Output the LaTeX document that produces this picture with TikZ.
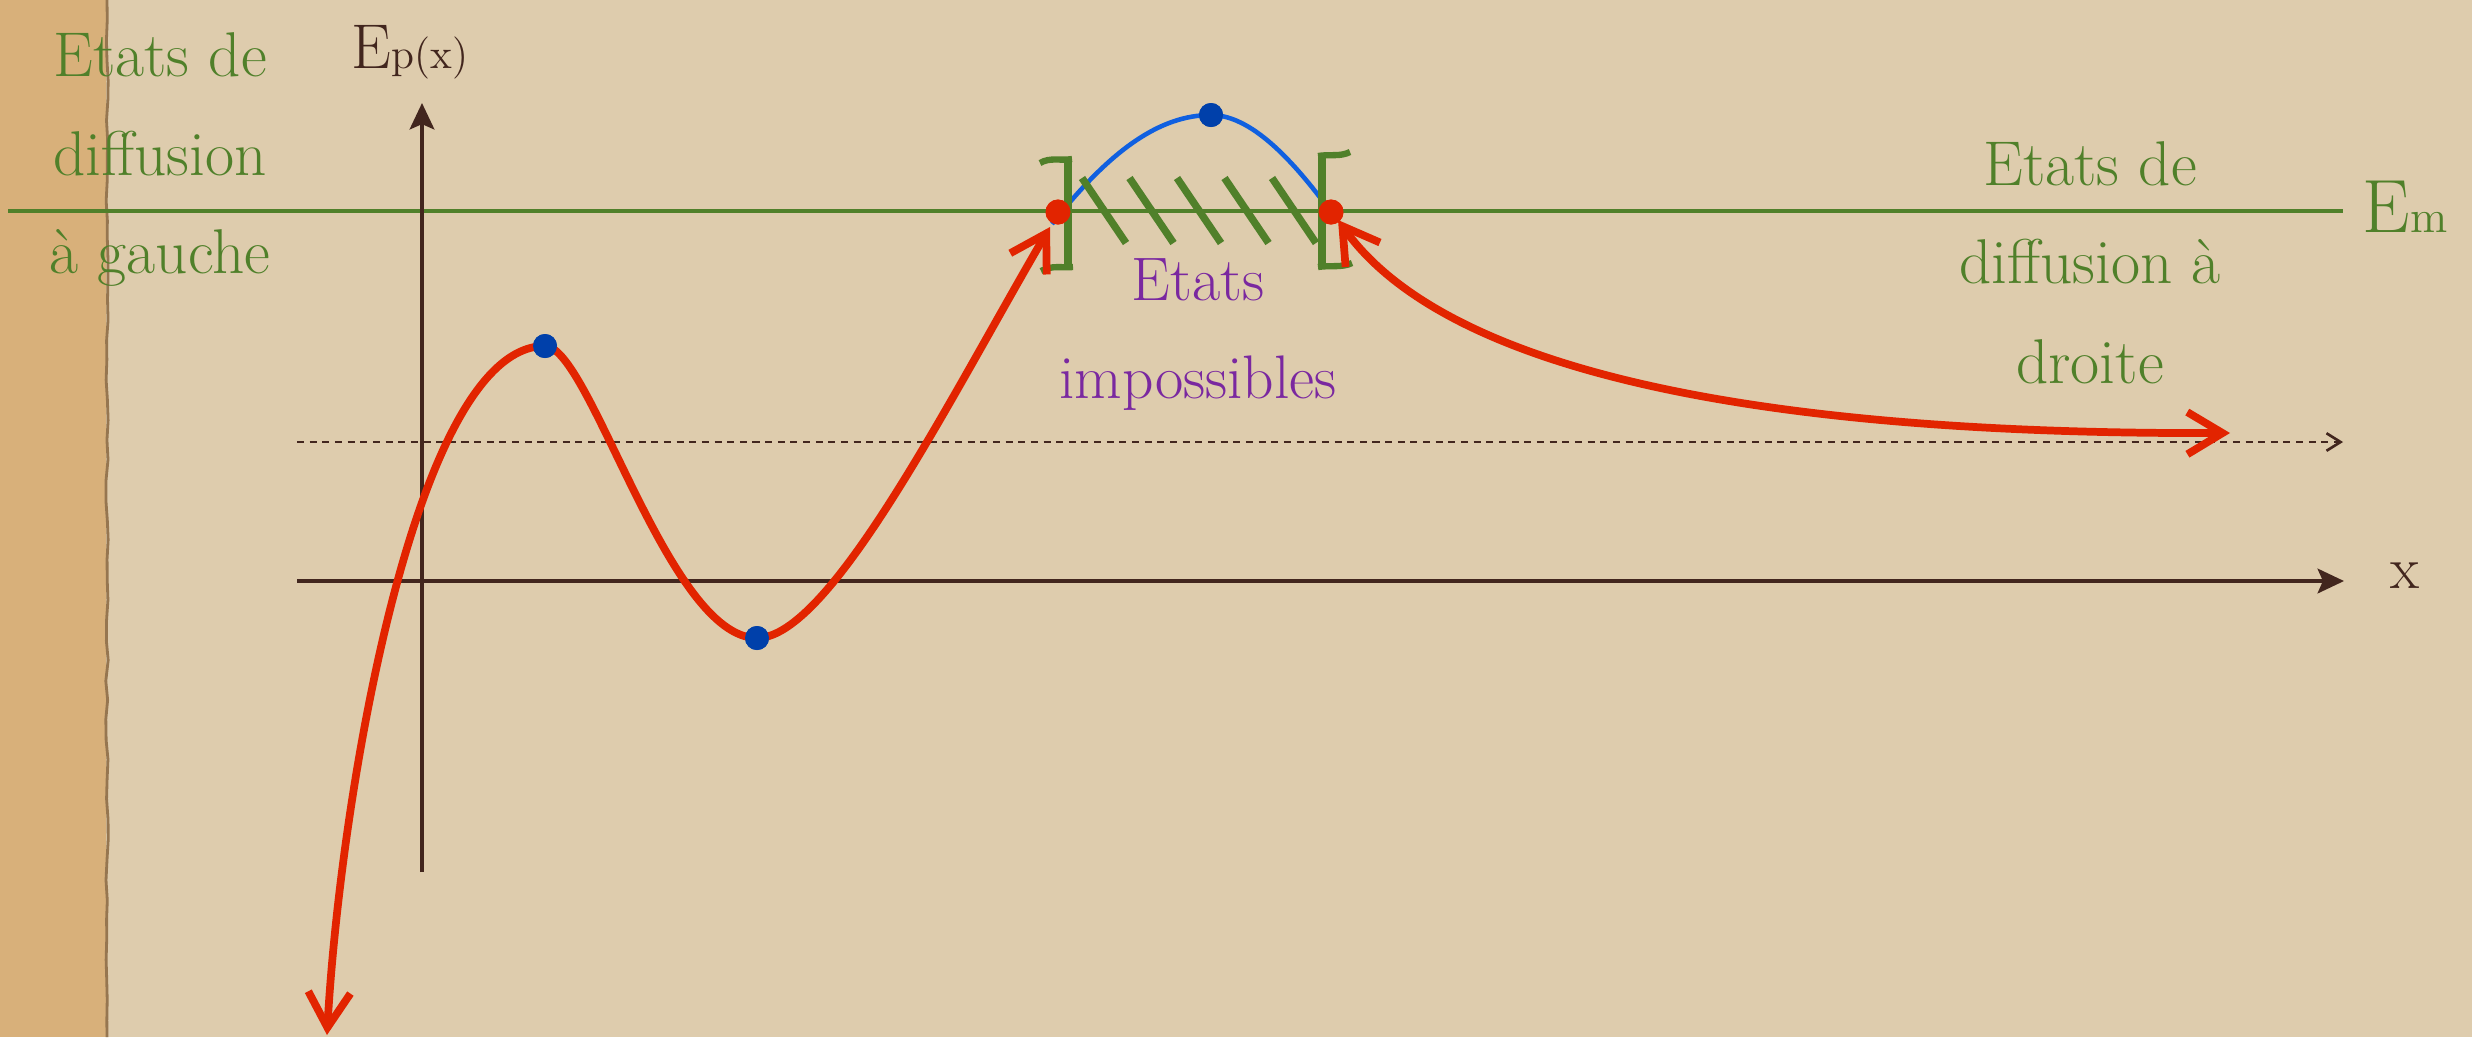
\documentclass[tikz,border=0pt]{standalone}
\usepackage{fontspec}
\usetikzlibrary{arrows.meta,decorations.pathmorphing}
\definecolor{paper}{RGB}{222,204,173}
\definecolor{strip}{RGB}{216,176,122}
\definecolor{edgec}{RGB}{150,118,80}
\definecolor{brn}{RGB}{66,38,30}
\definecolor{grn}{RGB}{80,128,42}
\definecolor{redc}{RGB}{226,36,0}
\definecolor{bluel}{RGB}{16,96,224}
\definecolor{blued}{RGB}{0,64,170}
\definecolor{purp}{RGB}{122,40,160}
\begin{document}
\begin{tikzpicture}[x=0.1mm,y=-0.1mm,
  axisline/.style={draw=brn, line width=1.15pt, arrows={-Stealth[length=7.5pt,width=7pt,inset=1.5pt]}},
  dotline/.style={draw=brn, line width=0.75pt, dash pattern=on 2pt off 1.6pt, arrows={-Straight Barb[length=4pt,width=5pt]}},
  emline/.style={draw=grn, line width=1.3pt},
  redcurve/.style={draw=redc, line width=2.2pt, arrows={Straight Barb[length=10pt,width=12pt]-Straight Barb[length=10pt,width=12pt]}},
  bluecurve/.style={draw=bluel, line width=1.3pt},
  hatchline/.style={draw=grn, line width=2.1pt},
  bracketv/.style={draw=grn, line width=2.2pt},
  brackets/.style={draw=grn, line width=1.8pt},
  bdot/.style={circle, fill=blued, inner sep=0pt, minimum size=2.4mm},
  rdot/.style={circle, fill=redc, inner sep=0pt, minimum size=2.5mm},
  gtxt/.style={text=grn, inner sep=0pt, anchor=base, font=\fontsize{18pt}{21pt}\selectfont},
  ptxt/.style={text=purp, inner sep=0pt, anchor=base, font=\fontsize{17.5pt}{21pt}\selectfont}
]
\useasboundingbox (0,0) rectangle (2472,1037);
% background
\fill[paper] (0,0) rectangle (2472,1037);
\fill[strip] (0,0) rectangle (106,1037);
\pgfmathsetseed{7}
\draw[edgec, line width=0.8pt, decorate, decoration={random steps, segment length=2mm, amplitude=0.12mm}] (107,0) -- (107,1037);

% coordinates
\coordinate (emL) at (8,211);
\coordinate (emR) at (2343,211);
\coordinate (dL) at (297,442);
\coordinate (dR) at (2343,442);
\coordinate (hL) at (297,581);
\coordinate (hR) at (2344,581);
\coordinate (vB) at (422,872);
\coordinate (vT) at (422,103);
\coordinate (lb) at (327,1035);
\coordinate (lt) at (1050,227);
\coordinate (rt) at (1338,220);
\coordinate (re) at (2230,433);
\coordinate (bs) at (1052,224);

% dots (nodes)
\node[bdot] (mx1) at (545,346) {};
\node[bdot] (mn1) at (757,638) {};
\node[bdot] (mx2) at (1211,115) {};
\node[rdot] (pL) at (1058,212) {};
\node[rdot] (pR) at (1331,212) {};

% lines
\draw[emline] (emL) -- (emR);
\draw[dotline] (dL) -- (dR);
\draw[axisline] (hL) -- (hR);
\draw[axisline] (vB) -- (vT);

% blue curve
\draw[bluecurve] (bs) .. controls (1110,150) and (1160,115) .. (mx2.center)
  .. controls (1255,115) and (1300,170) .. (pR.center);

% hatching
\foreach \i in {0,...,4}
  \draw[hatchline] ({1082+47.5*\i},178) -- ({1126+47.5*\i},243);

% brackets
\draw[bracketv] (1068,158) -- (1068,270);
\draw[brackets] (1040,163) .. controls (1050,157) and (1060,161) .. (1072,159);
\draw[brackets] (1041,271) .. controls (1051,265) and (1062,268) .. (1073,267);
\draw[bracketv] (1322,155) -- (1322,268);
\draw[brackets] (1318,156) .. controls (1330,154) and (1340,157) .. (1350,152);
\draw[brackets] (1318,267) .. controls (1330,265) and (1342,268) .. (1352,263);

% red curves
\draw[redcurve] (lb) .. controls (340,800) and (415,346) .. (mx1.center)
  .. controls (590,346) and (668,638) .. (mn1.center)
  .. controls (830,638) and (949,400) .. (lt);
\draw[redcurve] (rt) .. controls (1420,335) and (1640,435) .. (re);

% redraw dots on top
\node[bdot] at (mx1) {};
\node[bdot] at (mn1) {};
\node[bdot] at (mx2) {};
\node[rdot] at (pL) {};
\node[rdot] at (pR) {};

% texts
\node[gtxt] (gl1) at (160,76) {Etats de};
\node[gtxt] (gl2) at (160,175) {diffusion};
\node[gtxt] (gl3) at (160,273) {à gauche};
\node[gtxt] (gr1) at (2090,185) {Etats de};
\node[gtxt] (gr2) at (2090,283) {diffusion à};
\node[gtxt] (gr3) at (2090,383) {droite};
\node[ptxt] (pi1) at (1198,300) {Etats};
\node[ptxt] (pi2) at (1198,398) {impossibles};
\node[text=brn, inner sep=0pt, anchor=base west] (ep) at (351,68)
  {\fontsize{18pt}{20pt}\selectfont E\fontsize{12pt}{14pt}\selectfont p(x)};
\node[text=grn, inner sep=0pt, anchor=base west] (em) at (2362,232)
  {\fontsize{21.5pt}{24pt}\selectfont E\fontsize{13pt}{15pt}\selectfont m};
\node[text=brn, inner sep=0pt, anchor=base] (xl) at (2405,588)
  {\fontsize{17pt}{20pt}\selectfont x};
\end{tikzpicture}
\end{document}
